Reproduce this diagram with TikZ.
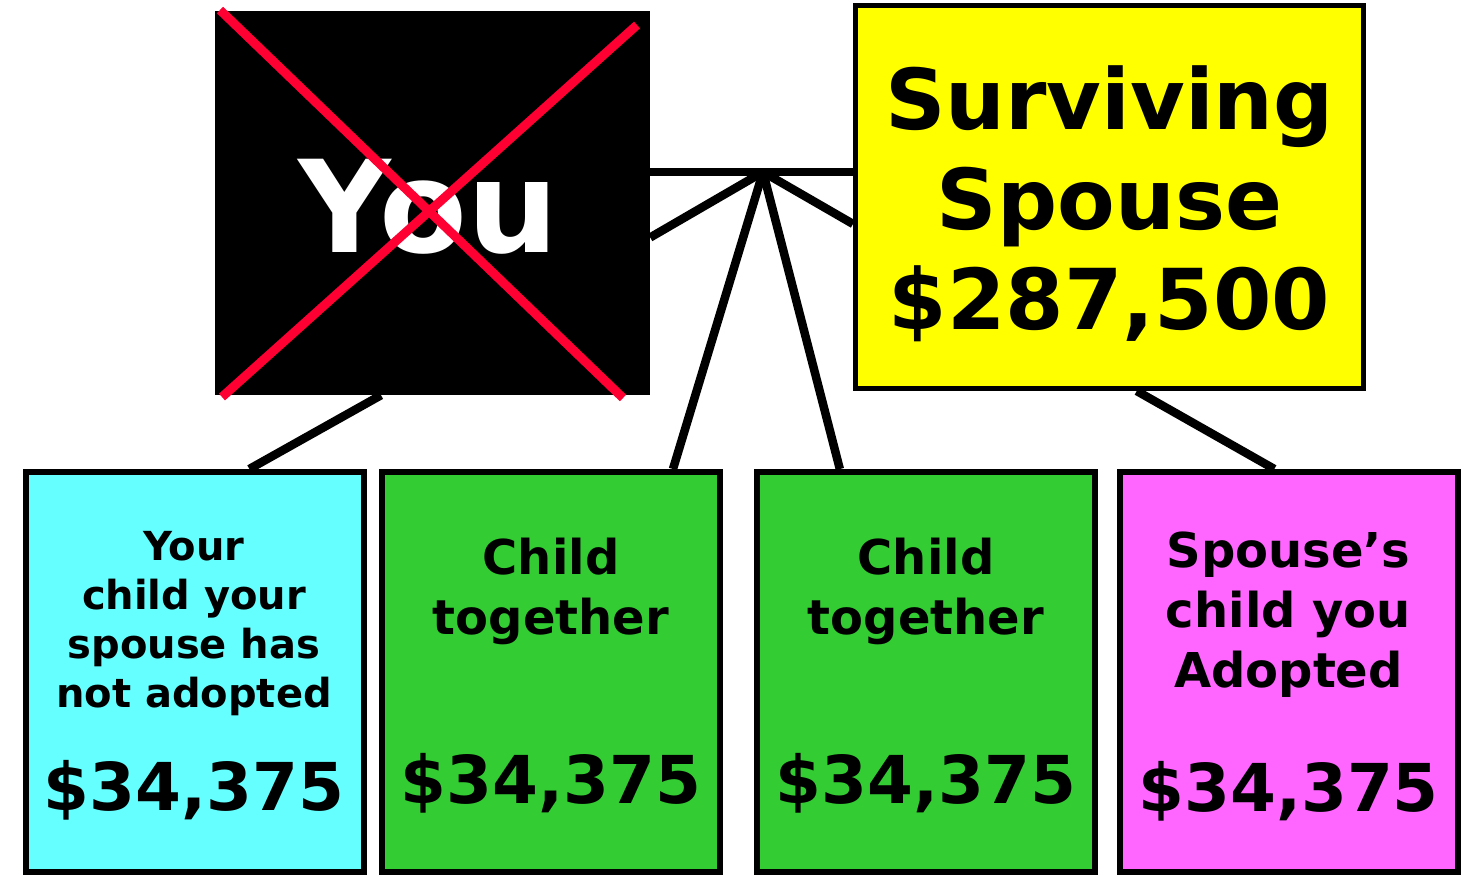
\documentclass[tikz,border=0pt]{standalone}
\usepackage{fontspec}
\setmainfont{DejaVu Sans}
\usetikzlibrary{calc}
\definecolor{xred}{HTML}{FF0033}
\definecolor{spouseyellow}{HTML}{FFFF00}
\definecolor{kidcyan}{HTML}{66FFFF}
\definecolor{kidgreen}{HTML}{33CC33}
\definecolor{kidpink}{HTML}{FF66FF}
\tikzset{
  kidbox/.style={draw=black, line width=6pt, minimum width=338pt, minimum height=400pt, inner sep=0pt},
  kidtext/.style={anchor=north, align=center, inner sep=0pt, font=\bfseries\fontsize{48}{60}\selectfont},
  amount/.style={anchor=base, inner sep=0pt, font=\bfseries\fontsize{66}{66}\selectfont},
  link/.style={line width=8.5pt}
}

\begin{document}
\begin{tikzpicture}[x=1pt,y=-1pt]
    \useasboundingbox (0,0) rectangle (1483,876);
    % Draw the two parents
    \node[fill=black, minimum width=435pt, minimum height=384pt, inner sep=0pt] (you) at (432.5,203) {};
    \node[anchor=base, inner sep=0pt, text=white,
          font=\bfseries\fontsize{128}{128}\selectfont] (youtxt) at ($(you.center)+(-4,49)$) {You};
    \node[draw=black, fill=spouseyellow, line width=5pt, minimum width=508pt,
          minimum height=383pt, inner sep=0pt] (spouse) at (1109.5,197) {};
    \node[anchor=north, align=center, inner sep=0pt,
          font=\bfseries\fontsize{84}{100}\selectfont] (spousetxt) at ($(spouse.north)+(0,62)$) {Surviving\\Spouse\\\$287,500};
    % Cross out you
    \draw[xred, line width=9pt] (220,10) -- (623,398) (637,25) -- (222,397);
    % Draw the four children
    \node[kidbox, fill=kidcyan] (kid1) at (195,672) {};
    \node[kidbox, fill=kidgreen] (kid2) at (551,672) {};
    \node[kidbox, fill=kidgreen] (kid3) at (926,672) {};
    \node[kidbox, fill=kidpink] (kid4) at (1288.5,672) {};
    \node[kidtext, font=\bfseries\fontsize{40}{49}\selectfont] (kid1txt) at ($(kid1.north)+(-1,62)$) {Your\\child your\\spouse has\\not adopted};
    \node[kidtext] (kid2txt) at ($(kid2.north)+(0,69)$) {Child\\together};
    \node[kidtext] (kid3txt) at ($(kid3.north)+(0,69)$) {Child\\together};
    \node[kidtext] (kid4txt) at ($(kid4.north)+(0,63)$) {Spouse’s\\child you\\Adopted};
    \node[amount] (kid1amt) at ($(kid1.center)+(-1,138)$) {\$34,375};
    \node[amount] (kid2amt) at ($(kid2.center)+(0,131)$) {\$34,375};
    \node[amount] (kid3amt) at ($(kid3.center)+(0,131)$) {\$34,375};
    \node[amount] (kid4amt) at ($(kid4.center)+(0,139)$) {\$34,375};
    % Draw the family lines
    \coordinate (hub) at (763,172);
    \draw[link] (you.east |- hub) -- (spouse.west |- hub);
    \draw[link] (hub) -- (you.-9);
    \draw[link] (hub) -- (spouse.186);
    \draw[link] (hub) -- (kid2.59);
    \draw[link] (hub) -- (kid3.113);
    \draw[link] (you.-105) -- (kid1.75);
    \draw[link] (spouse.-82) -- (kid4.94);
\end{tikzpicture}
\end{document}
